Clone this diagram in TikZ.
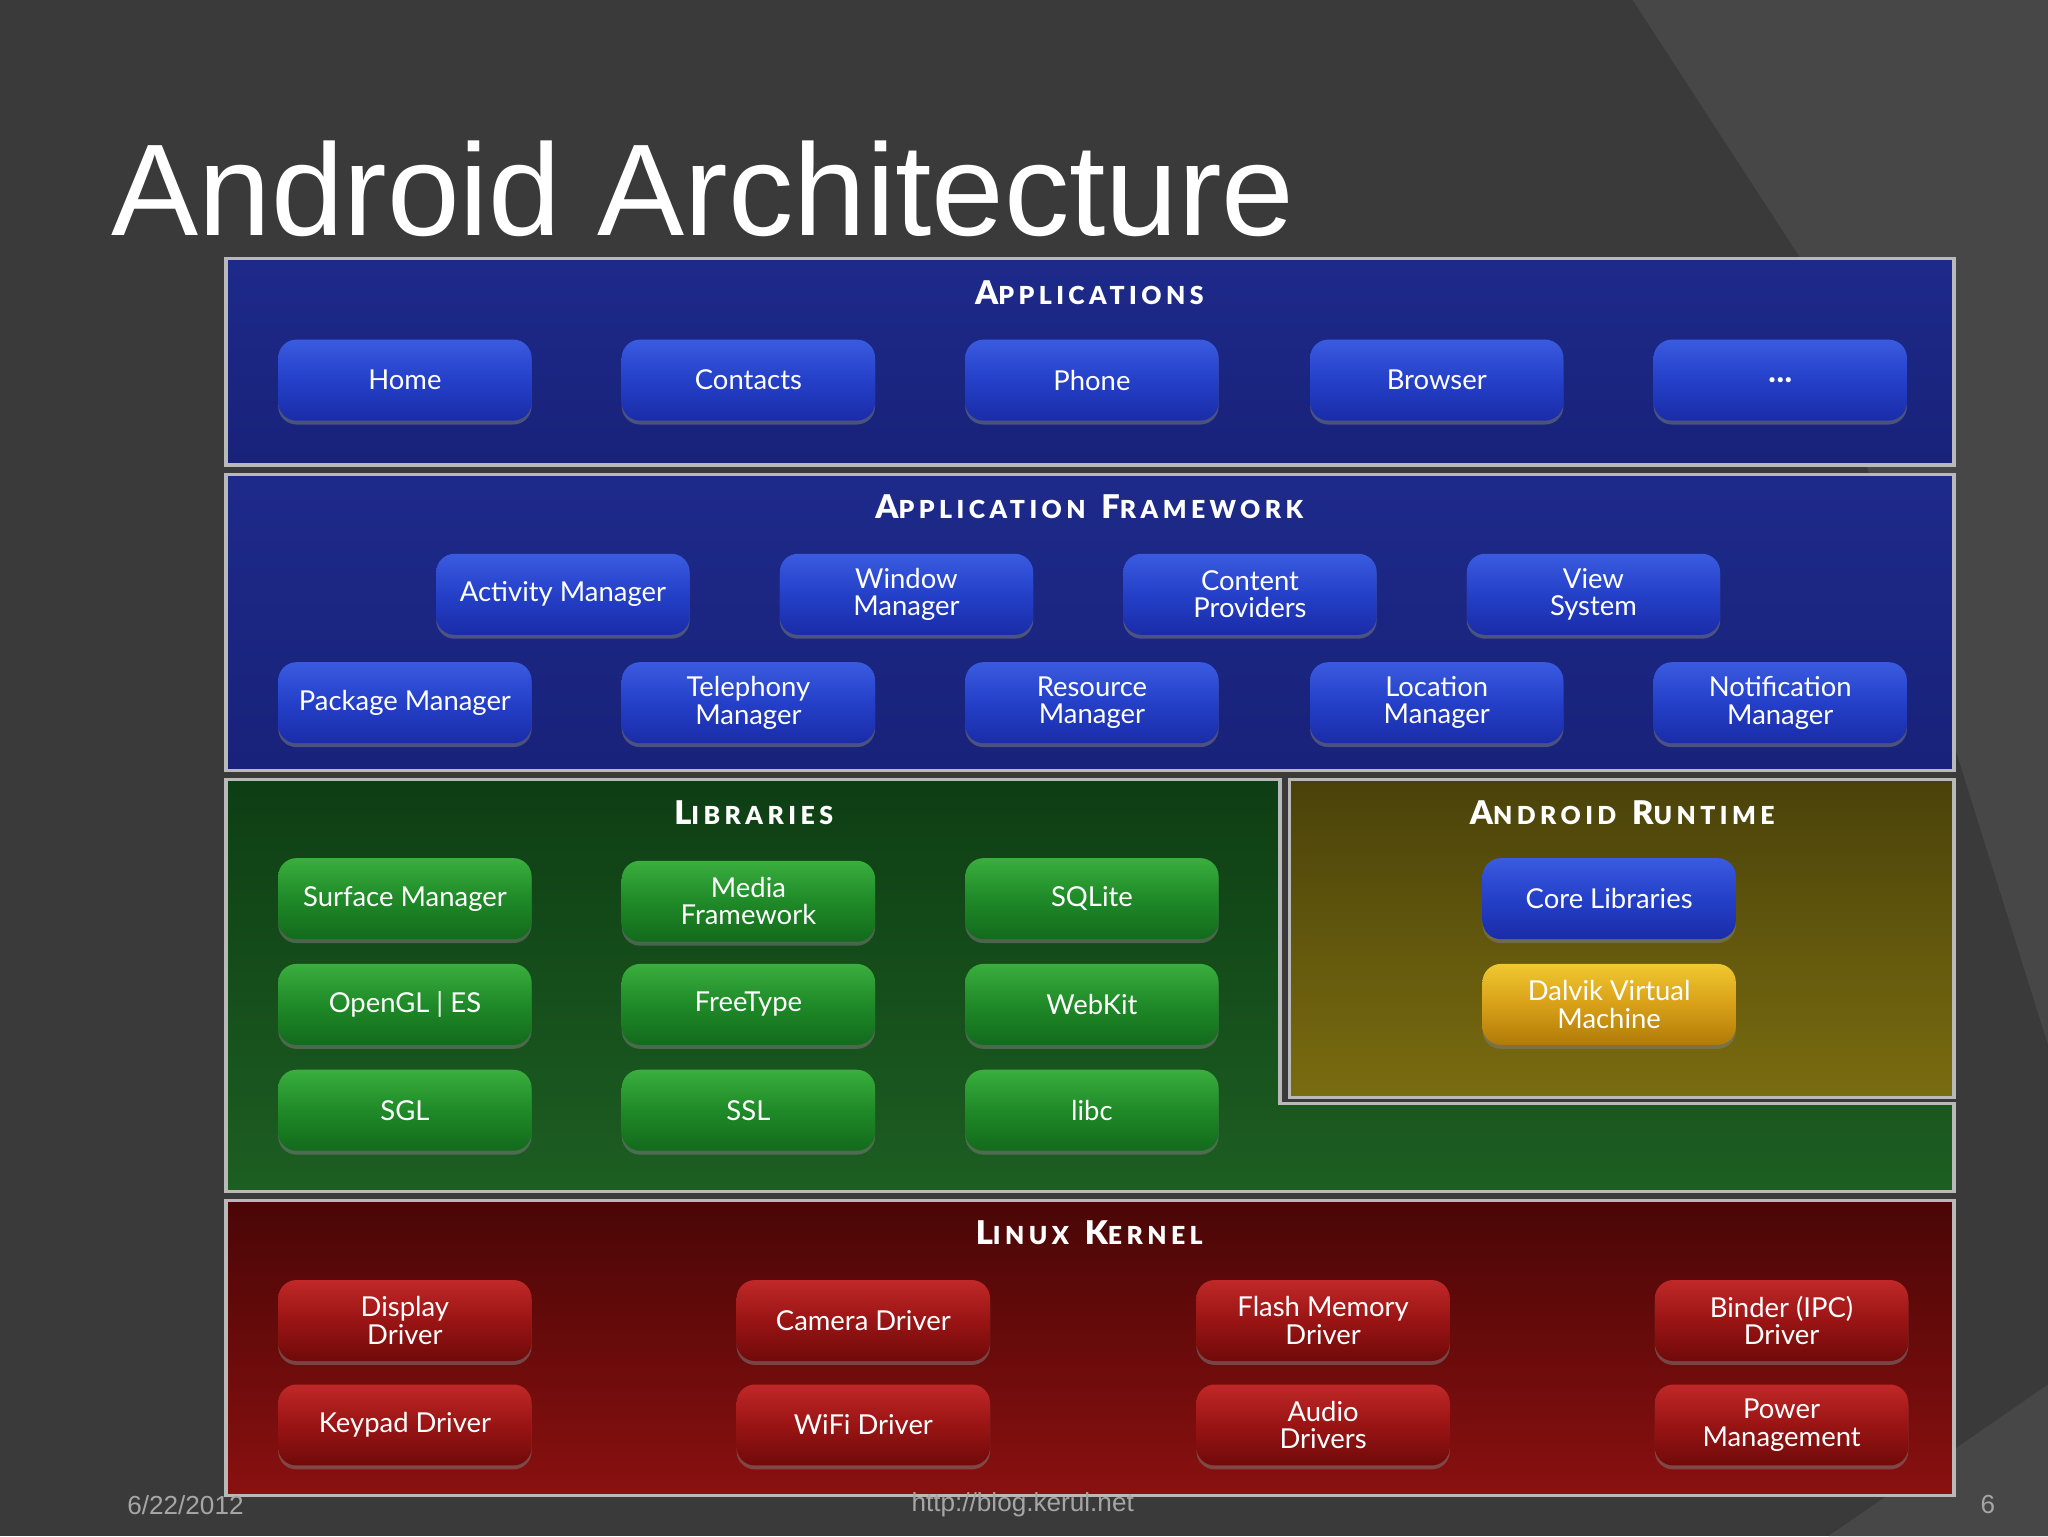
\documentclass[tikz,border=0pt]{standalone}
\usepackage{fontspec}
\setmainfont{Lato}
\newfontfamily\titlefont{Liberation Sans}
\newfontfamily\hdrfont[LetterSpace=18]{Lato Black}
\usetikzlibrary{shadows}
\definecolor{bg}{HTML}{3A3A3A}
\definecolor{bgl}{HTML}{474747}
\definecolor{lblue1}{HTML}{1E2A8A}\definecolor{lblue2}{HTML}{18227A}
\definecolor{bt1}{HTML}{3A5BE0}\definecolor{bt2}{HTML}{1A2CA8}\definecolor{bt3}{HTML}{2440C8}
\definecolor{lg1}{HTML}{0E3E14}\definecolor{lg2}{HTML}{1D5E22}
\definecolor{gt1}{HTML}{3AAE3E}\definecolor{gt2}{HTML}{136A1C}\definecolor{gt3}{HTML}{1F8A28}
\definecolor{lo1}{HTML}{4A420A}\definecolor{lo2}{HTML}{7A6C10}
\definecolor{lr1}{HTML}{4A0606}\definecolor{lr2}{HTML}{8A1010}
\definecolor{rt1}{HTML}{C02828}\definecolor{rt2}{HTML}{700A0A}\definecolor{rt3}{HTML}{9A1414}
\definecolor{yt1}{HTML}{F0C830}\definecolor{yt2}{HTML}{B07A08}\definecolor{yt3}{HTML}{D8A018}
\newcommand{\hdr}[2]{{\hdrfont\fontsize{25}{25}\selectfont #1\fontsize{19}{19}\selectfont #2}}
\tikzset{
  x=1pt,y=-1pt,
  layer/.style={draw=gray!55,line width=2.5pt},
  btn/.style={rounded corners=14pt,minimum width=194pt,minimum height=62pt,text=white,
    font=\fontsize{21}{21}\selectfont,align=center,inner sep=0pt,
    drop shadow={shadow xshift=0pt,shadow yshift=-3pt,opacity=.5}},
  bb/.style={btn,top color=bt1,bottom color=bt2,middle color=bt3},
  gb/.style={btn,top color=gt1,bottom color=gt2,middle color=gt3},
  rb/.style={btn,top color=rt1,bottom color=rt2,middle color=rt3},
  yb/.style={btn,top color=yt1,bottom color=yt2,middle color=yt3},
  hd/.style={text=white}
}
\begin{document}
\begin{tikzpicture}
\fill[bg] (0,0) rectangle (1568,1176);
\fill[bgl] (1250,0) -- (1568,0) -- (1568,800) -- (1380,200) -- cycle;
\fill[bgl] (1568,1060) -- (1400,1176) -- (1568,1176) -- cycle;
\node[anchor=base west,text=white,inner sep=0pt,font=\titlefont\fontsize{100}{100}\selectfont] (title) at (85,180) {Android Architecture};
% layers
\shade[layer,top color=lblue1,bottom color=lblue2] (173,198) rectangle (1496,356);
\shade[layer,top color=lblue1,bottom color=lblue2] (173,363) rectangle (1496,590);
\shade[layer,top color=lg1,bottom color=lg2] (173,597) -- (980,597) -- (980,845) -- (1496,845) -- (1496,912) -- (173,912) -- cycle;
\shade[layer,top color=lo1,bottom color=lo2] (987,597) rectangle (1496,840);
\shade[layer,top color=lr1,bottom color=lr2] (173,919) rectangle (1496,1145);
% headers
\node[hd] (h1) at (834,224) {\hdr{A}{PPLICATIONS}};
\node[hd] (h2) at (834,388) {\hdr{A}{PPLICATION}\hspace{12pt}\hdr{F}{RAMEWORK}};
\node[hd] (h3) at (577,622) {\hdr{L}{IBRARIES}};
\node[hd] (h4) at (1242,622) {\hdr{A}{NDROID}\hspace{12pt}\hdr{R}{UNTIME}};
\node[hd] (h5) at (834,944) {\hdr{L}{INUX}\hspace{12pt}\hdr{K}{ERNEL}};
% applications
\node[bb] (home) at (310,291) {Home};
\node[bb] (contacts) at (573,291) {Contacts};
\node[bb] (phone) at (836,291) {Phone};
\node[bb] (browser) at (1100,291) {Browser};
\node[bb,font=\bfseries\fontsize{26}{26}\selectfont] (more) at (1363,291) {\raisebox{-4pt}{...}};
% framework
\node[bb] (am) at (431,455) {Activity Manager};
\node[bb] (wm) at (694,455) {Window\\Manager};
\node[bb] (cp) at (957,455) {Content\\Providers};
\node[bb] (vs) at (1220,455) {View\\System};
\node[bb] (pm) at (310,538) {Package Manager};
\node[bb] (tm) at (573,538) {Telephony\\Manager};
\node[bb] (rm) at (836,538) {Resource\\Manager};
\node[bb] (lm) at (1100,538) {Location\\Manager};
\node[bb] (nm) at (1363,538) {Notification\\Manager};
% libraries
\node[gb] (sm) at (310,688) {Surface Manager};
\node[gb] (mf) at (573,690) {Media\\Framework};
\node[gb] (sq) at (836,688) {SQLite};
\node[gb] (gl) at (310,769) {OpenGL | ES};
\node[gb] (ft) at (573,769) {FreeType};
\node[gb] (wk) at (836,769) {WebKit};
\node[gb] (sgl) at (310,850) {SGL};
\node[gb] (ssl) at (573,850) {SSL};
\node[gb] (libc) at (836,850) {libc};
% runtime
\node[bb] (core) at (1232,688) {Core Libraries};
\node[yb] (dalvik) at (1232,769) {Dalvik Virtual\\Machine};
% kernel
\node[rb] (dd) at (310,1011) {Display\\Driver};
\node[rb] (cd) at (661,1011) {Camera Driver};
\node[rb] (fm) at (1013,1011) {Flash Memory\\Driver};
\node[rb] (bd) at (1364,1011) {Binder (IPC)\\Driver};
\node[rb] (kd) at (310,1091) {Keypad Driver};
\node[rb] (wd) at (661,1091) {WiFi Driver};
\node[rb] (ad) at (1013,1091) {Audio\\Drivers};
\node[rb] (pw) at (1364,1091) {Power\\Management};
% footer
\tikzset{ft/.style={text=gray!70,font=\titlefont\fontsize{20}{20}\selectfont}}
\node[ft] (date) at (142,1152) {6/22/2012};
\node[ft] (url) at (783,1152) {http://blog.kerul.net};
\node[ft] (pg) at (1522,1152) {6};
\end{tikzpicture}
\end{document}
